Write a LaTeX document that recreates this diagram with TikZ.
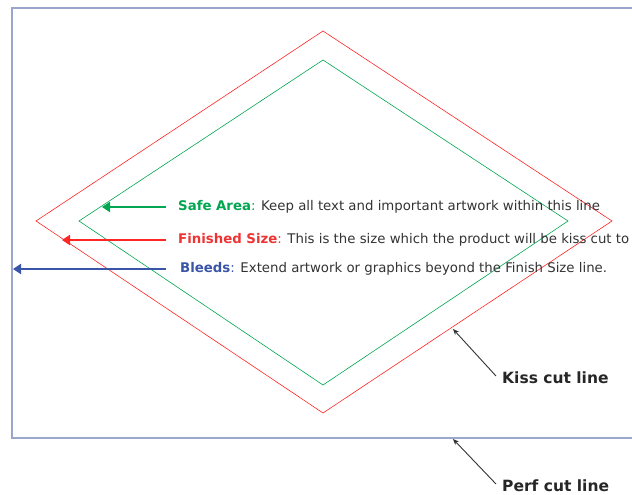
\documentclass[tikz,border=0pt]{standalone}
\usepackage{fontspec}
\setmainfont{DejaVu Sans}
\usetikzlibrary{arrows.meta}
\definecolor{frameblue}{HTML}{9AA6CC}
\definecolor{arrblue}{HTML}{3A55A8}
\definecolor{lblred}{HTML}{EE3333}
\definecolor{lblgreen}{HTML}{00A650}
\definecolor{txt}{HTML}{333333}
\tikzset{
  lbl/.style={anchor=west, inner sep=0pt, font=\fontsize{13.3}{15}\selectfont, text=txt},
  bigarrow/.style={line width=2.6pt, -{Triangle[length=8pt,width=10pt]}},
  ptr/.style={line width=0.9pt, txt, -{Stealth[length=6pt,width=5pt]}},
  cutlbl/.style={anchor=west, inner sep=0pt, font=\fontsize{15.5}{17}\selectfont\bfseries, text=black!85},
}
\begin{document}
\begin{tikzpicture}[x=1pt,y=-1pt]
\useasboundingbox (0,0) rectangle (632,495);
% frame (perf cut)
\draw[frameblue, line width=1.6pt] (640,8) -- (12,8) -- (12,438) -- (640,438);
\coordinate (perf) at (453,439);
% diamonds
\draw[red!85, line width=0.6pt] (323,31) -- (612,221) -- (323,413) -- (36,221) -- cycle;
\draw[lblgreen, line width=0.6pt] (323,60) -- (568,221) -- (323,385) -- (79,221) -- cycle;
\coordinate (kiss) at (453,329);
\coordinate (safeTip) at (102,207);
\coordinate (finTip) at (62,240);
\coordinate (bleedTip) at (13,269);
% labels
\node[lbl] (safe) at (178,207) {\textbf{\textcolor{lblgreen}{Safe Area}}\textcolor{lblgreen}{:} Keep all text and important artwork within this line};
\node[lbl] (fin) at (178,240) {\textbf{\textcolor{lblred}{Finished Size}}\textcolor{lblred}{:} This is the size which the product will be kiss cut to};
\node[lbl] (bleed) at (180,269) {\textbf{\textcolor{arrblue}{Bleeds}}\textcolor{arrblue}{:} Extend artwork or graphics beyond the Finish Size line.};
\draw[bigarrow, lblgreen] (166,207) -- (safeTip);
\draw[bigarrow, red!85] (166,240) -- (finTip);
\draw[bigarrow, arrblue] (166,269) -- (bleedTip);
% cut labels
\node[cutlbl] (kisslbl) at (502,378) {Kiss cut line};
\node[cutlbl] (perflbl) at (502,486) {Perf cut line};
\draw[ptr] (kisslbl.west) ++(-6,-2) -- (kiss);
\draw[ptr] (perflbl.west) ++(-6,-2) -- (perf);
\end{tikzpicture}
\end{document}
